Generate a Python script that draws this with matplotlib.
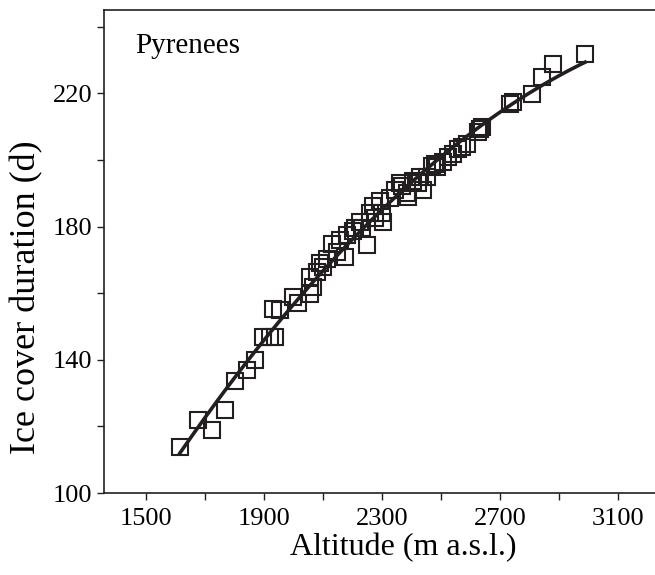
import matplotlib.pyplot as plt
import numpy as np

plt.rcParams['font.family'] = ['Liberation Serif', 'DejaVu Serif']

# altitude (m a.s.l.) and ice cover duration (d)
altitude = [1615, 1676, 1724, 1768, 1802, 1842, 1870, 1897, 1920, 1937,
            1931, 1954, 1998, 2015, 2056, 2056, 2066, 2080, 2090, 2100,
            2114, 2131, 2147, 2158, 2175, 2181, 2202, 2209, 2225, 2232,
            2249, 2259, 2270, 2276, 2293, 2300, 2303, 2327, 2344, 2361,
            2368, 2385, 2388, 2405, 2422, 2429, 2439, 2453, 2470, 2480,
            2486, 2507, 2524, 2541, 2558, 2571, 2588, 2625, 2632, 2639,
            2734, 2744, 2809, 2842, 2880, 2988]
ice_days = [113.8, 122.0, 119.0, 125.0, 133.7, 137.0, 140.0, 146.9, 146.9, 146.9,
            155.3, 155.0, 158.7, 156.9, 159.6, 164.7, 161.7, 166.2, 168.9, 167.7,
            170.1, 174.9, 172.2, 176.1, 170.7, 177.6, 178.8, 179.7, 181.5, 179.7,
            174.6, 184.2, 186.3, 182.7, 187.8, 184.2, 181.5, 188.7, 191.1, 193.2,
            192.3, 190.2, 189.0, 193.8, 193.2, 195.0, 191.1, 195.0, 198.1, 198.7,
            197.8, 199.3, 200.8, 201.7, 203.2, 203.8, 204.7, 208.3, 209.2, 209.8,
            216.7, 217.3, 219.7, 224.8, 228.7, 231.7]

x = np.array(altitude)
y = np.array(ice_days)

fig = plt.figure(figsize=(6.55, 5.75), dpi=100)
ax = fig.add_axes([104 / 655, 82 / 575, 1 - 104 / 655, 483 / 575])

ax.plot(x, y, ls='none', marker='s', ms=11, mfc='none', mec='#231f20', mew=1.5)

# quadratic fit drawn over the data range
coef = np.polyfit(x, y, 2)
xf = np.linspace(x.min(), x.max(), 200)
ax.plot(xf, np.polyval(coef, xf), color='#231f20', lw=2.6)

ax.set_xlim(1358, 3225)
ax.set_ylim(100, 245)
ax.set_xticks([1500, 1900, 2300, 2700, 3100])
ax.set_xticks([1700, 2100, 2500, 2900], minor=True)
ax.set_yticks([100, 140, 180, 220])
ax.set_yticks([120, 160, 200, 240], minor=True)
ax.tick_params(which='both', direction='out', length=5, width=1, labelsize=19, color='#231f20')
ax.tick_params(axis='x', pad=6)

ax.spines['right'].set_visible(False)
for s in ['left', 'bottom', 'top']:
    ax.spines[s].set_linewidth(1.2)
    ax.spines[s].set_color('#231f20')

ax.set_xlabel('Altitude (m a.s.l.)', fontsize=23)
ax.set_ylabel('Ice cover duration (d)', fontsize=26)
ax.xaxis.set_label_coords(0.543, -0.082)
ax.yaxis.set_label_coords(-0.11, 0.406)
ax.text(0.056, 0.925, 'Pyrenees', transform=ax.transAxes, fontsize=21, va='center', ha='left')

fig.savefig('out.png', dpi=100)
